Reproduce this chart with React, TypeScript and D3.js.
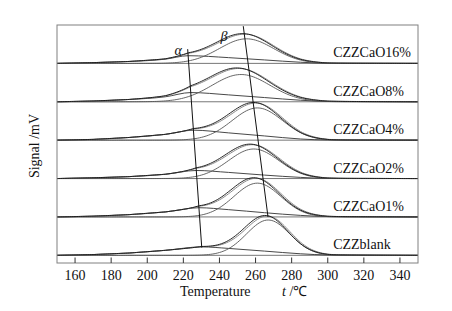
import React from "react";
import * as d3 from "d3";

// ---- data ----
const samples = ["CZZCaO16%", "CZZCaO8%", "CZZCaO4%", "CZZCaO2%", "CZZCaO1%", "CZZblank"];
const offsets = [5, 4, 3, 2, 1, 0];
const xTicks = [160, 180, 200, 220, 240, 260, 280, 300, 320, 340];

// beta (main) peak fit parameters
const betaCenter = [255, 252, 261, 259, 261, 267];
const betaHeight = [0.64, 0.71, 0.84, 0.77, 0.88, 0.92];
const betaWidth = [15, 16, 14, 14, 13, 12];

// measured signal main peak
const measuredCenter = [253.8, 250.8, 259.8, 257.8, 259.8, 265.8];
const measuredHeight = [0.65, 0.72, 0.85, 0.78, 0.89, 0.93];
const measuredWidth = [15, 16, 14, 14, 13, 12];

// alpha (low temperature) component samples
const alphaPeakTemp = [222.7, 224.1, 225.6, 227.1, 228.6, 230.2];
const alphaTempsBefore = [150, 170, 190, 210];
const alphaTempsAfter = [245, 265, 285, 300, 350];
const alphaValues = [
  [0, 0.02, 0.05, 0.11, 0.2, 0.15, 0.09, 0.03, 0.005, 0],
  [0, 0.02, 0.06, 0.13, 0.24, 0.18, 0.11, 0.04, 0.01, 0],
  [0, 0.02, 0.07, 0.15, 0.26, 0.19, 0.11, 0.03, 0.005, 0],
  [0, 0.02, 0.05, 0.11, 0.21, 0.16, 0.09, 0.03, 0.005, 0],
  [0, 0.02, 0.06, 0.13, 0.24, 0.19, 0.11, 0.04, 0.01, 0],
  [0, 0.02, 0.06, 0.13, 0.22, 0.18, 0.11, 0.04, 0.01, 0],
];

// peak-position guide lines (temperature, signal)
const alphaGuide: [number, number][] = [[222.4, 5.37], [230.2, 0.2]];
const betaGuide: [number, number][] = [[253.2, 5.97], [266.9, 1.0]];
const alphaLabelPos: [number, number] = [217.2, 5.22];
const betaLabelPos: [number, number] = [242.5, 5.58];
const labelTemp = 303;

const W = 452;
const H = 311;
const FONT = "'Liberation Serif', 'Times New Roman', serif";

export default function App() {
  const x = d3.scaleLinear().domain([150, 350]).range([57, 418]);
  const y = d3.scaleLinear().domain([-0.2, 6.0]).range([263, 25]);

  const grid = d3.range(150, 350.01, 1);
  const line = d3
    .line<[number, number]>()
    .x((d) => x(d[0]))
    .y((d) => y(d[1]))
    .curve(d3.curveMonotoneX);
  const straight = d3
    .line<[number, number]>()
    .x((d) => x(d[0]))
    .y((d) => y(d[1]));

  const gauss = (t: number, c: number, h: number, s: number) =>
    h * Math.exp(-((t - c) * (t - c)) / (2 * s * s));

  const panels = samples.map((name, i) => {
    const off = offsets[i];
    const aT = [...alphaTempsBefore, alphaPeakTemp[i], ...alphaTempsAfter];
    const aV = alphaValues[i];
    const aInterp = d3.scaleLinear().domain(aT).range(aV).clamp(true);
    const alphaPts: [number, number][] = aT.map((t, k) => [t, off + aV[k]]);
    const betaPts: [number, number][] = grid.map((t) => [
      t,
      off + gauss(t, betaCenter[i], betaHeight[i], betaWidth[i]),
    ]);
    const fitPts: [number, number][] = grid.map((t) => [
      t,
      off + aInterp(t) + gauss(t, betaCenter[i], betaHeight[i], betaWidth[i]),
    ]);
    const measPts: [number, number][] = grid.map((t) => [
      t,
      off + aInterp(t) + gauss(t, measuredCenter[i], measuredHeight[i], measuredWidth[i]),
    ]);
    return { name, off, alphaPts, betaPts, fitPts, measPts };
  });

  return (
    <svg
      width={W}
      height={H}
      style={{ position: "absolute", left: 0, top: 0, background: "#fff" }}
      fontFamily={FONT}
    >
      <rect x={0} y={0} width={W} height={H} fill="#fff" />
      {panels.map((p, i) => (
        <g key={p.name}>
          <line
            x1={x(150)}
            x2={x(350)}
            y1={y(p.off)}
            y2={y(p.off)}
            stroke="#777"
            strokeWidth={1}
          />
          <path d={line(p.alphaPts) || ""} fill="none" stroke="#333" strokeWidth={0.9} />
          <path d={line(p.betaPts) || ""} fill="none" stroke="#555" strokeWidth={0.9} />
          <path d={line(p.fitPts) || ""} fill="none" stroke="#8a8a8a" strokeWidth={1} />
          <path d={line(p.measPts) || ""} fill="none" stroke="#111" strokeWidth={0.9} />
          <text x={x(labelTemp)} y={y(p.off) - 6} fontSize={14} fill="#111">
            {p.name}
          </text>
        </g>
      ))}
      <path d={straight(alphaGuide) || ""} stroke="#111" strokeWidth={1} fill="none" />
      <path d={straight(betaGuide) || ""} stroke="#111" strokeWidth={1} fill="none" />
      <text
        x={x(alphaLabelPos[0])}
        y={y(alphaLabelPos[1])}
        fontSize={14}
        fontStyle="italic"
        textAnchor="middle"
        fill="#111"
      >
        α
      </text>
      <text
        x={x(betaLabelPos[0])}
        y={y(betaLabelPos[1])}
        fontSize={14}
        fontStyle="italic"
        textAnchor="middle"
        fill="#111"
      >
        β
      </text>
      {/* frame */}
      <rect
        x={x(150)}
        y={y(6.0)}
        width={x(350) - x(150)}
        height={y(-0.2) - y(6.0)}
        fill="none"
        stroke="#808080"
        strokeWidth={1}
      />
      {xTicks.map((t) => (
        <g key={t}>
          <line x1={x(t)} x2={x(t)} y1={y(-0.2)} y2={y(-0.2) - 5.5} stroke="#333" strokeWidth={1} />
          <text x={x(t)} y={279.5} fontSize={14} textAnchor="middle" fill="#111">
            {t}
          </text>
        </g>
      ))}
      <text x={180} y={296} fontSize={14} fill="#111">
        Temperature
      </text>
      <text x={282} y={296} fontSize={14} fill="#111">
        <tspan fontStyle="italic">t</tspan>
        <tspan> /℃</tspan>
      </text>
      <text
        transform={`translate(38.5, 146) rotate(-90)`}
        fontSize={14}
        textAnchor="middle"
        fill="#111"
      >
        Signal /mV
      </text>
    </svg>
  );
}
